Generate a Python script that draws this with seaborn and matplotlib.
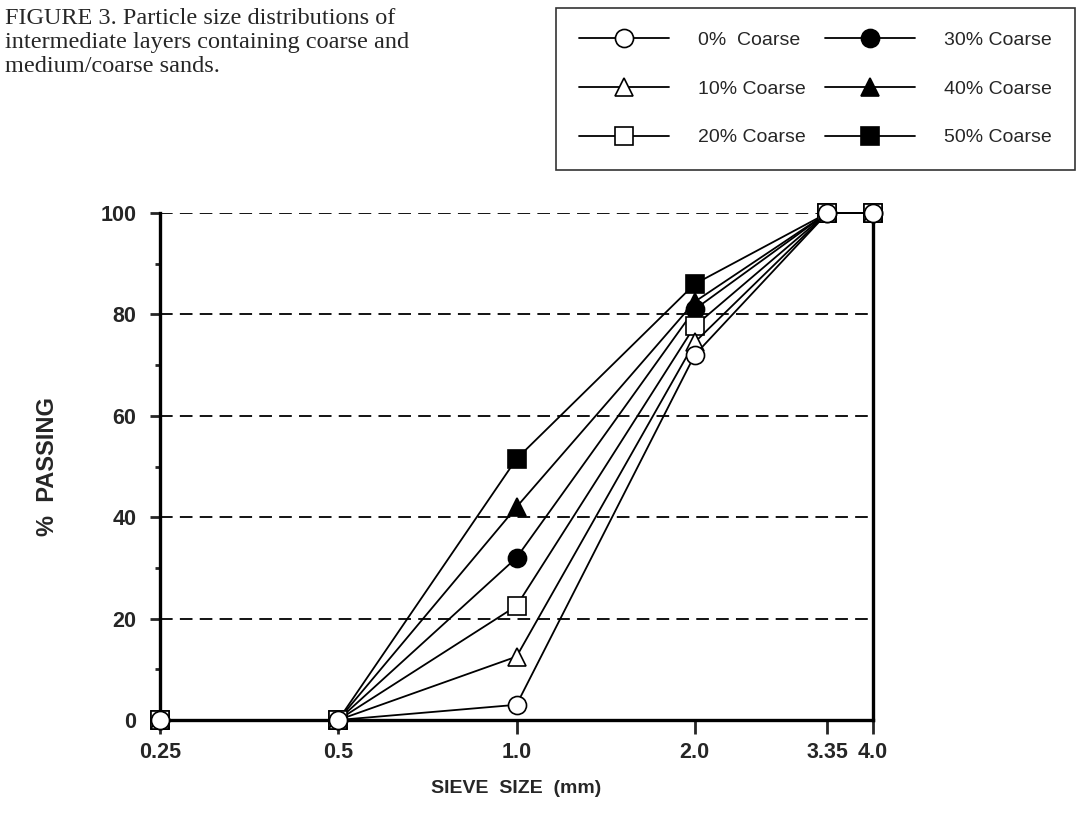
import pandas as pd
import seaborn as sns
import matplotlib.pyplot as plt
from matplotlib.lines import Line2D

# sieve sizes (mm) and % passing for each mix
sieve_mm = [0.25, 0.5, 1.0, 2.0, 3.35, 4.0]
sieve_labels = ["0.25", "0.5", "1.0", "2.0", "3.35", "4.0"]
mixes = ["0%  Coarse", "10% Coarse", "20% Coarse", "30% Coarse", "40% Coarse", "50% Coarse"]
pass_0 = [0, 0, 3, 72, 100, 100]
pass_10 = [0, 0, 12.5, 74.5, 100, 100]
pass_20 = [0, 0, 22.5, 77.7, 100, 100]
pass_30 = [0, 0, 32, 81, 100, 100]
pass_40 = [0, 0, 42, 82.5, 100, 100]
pass_50 = [0, 0, 51.5, 86, 100, 100]

rows = []
for mix, vals in zip(mixes, [pass_0, pass_10, pass_20, pass_30, pass_40, pass_50]):
    for s, v in zip(sieve_mm, vals):
        rows.append({"mix": mix, "sieve": s, "passing": v})
df = pd.DataFrame(rows)

marker_of = {mixes[0]: "o", mixes[1]: "^", mixes[2]: "s",
             mixes[3]: "o", mixes[4]: "^", mixes[5]: "s"}
face_of = {m: ("white" if i < 3 else "black") for i, m in enumerate(mixes)}
size_of = {"o": 13, "^": 13, "s": 12.5}

sns.set_theme(style="white")
plt.rcParams["font.family"] = ["Liberation Sans", "DejaVu Sans"]

fig = plt.figure(figsize=(10.77, 8.32), dpi=100)
ax = fig.add_axes([160 / 1077, 1 - 720 / 832, (873 - 160) / 1077, (720 - 213) / 832])

# draw heavy mixes first so the open markers sit on top
for mix in mixes[::-1]:
    sub = df[df["mix"] == mix]
    mk = marker_of[mix]
    sns.lineplot(data=sub, x="sieve", y="passing", ax=ax, color="black", lw=1.3,
                 marker=mk, markersize=size_of[mk], markerfacecolor=face_of[mix],
                 markeredgecolor="black", markeredgewidth=1.2, clip_on=False,
                 zorder=3, legend=False)

ax.set_xscale("log", base=2)
ax.set_xlim(0.25, 4.0)
ax.set_ylim(0, 100)
ax.set_xticks(sieve_mm)
ax.set_xticklabels(sieve_labels)
ax.minorticks_off()
ax.set_yticks([0, 20, 40, 60, 80, 100])
ax.set_yticks([10, 30, 50, 70, 90], minor=True)

ax.yaxis.grid(True, which="major", color="black", lw=1.3, linestyle=(0, (7, 4)))
ax.set_axisbelow(True)

for side in ["left", "bottom", "right"]:
    ax.spines[side].set_visible(True)
    ax.spines[side].set_linewidth(2.4)
    ax.spines[side].set_color("black")
ax.spines["top"].set_visible(False)

ax.tick_params(axis="y", which="major", direction="out", length=7, width=2, pad=10,
               labelsize=15.5, left=True)
ax.tick_params(axis="y", which="minor", direction="out", length=3.5, width=2, left=True)
ax.tick_params(axis="x", which="major", direction="out", length=10, width=2, pad=6,
               labelsize=15.5, bottom=True)
for lab in ax.get_xticklabels() + ax.get_yticklabels():
    lab.set_fontweight("bold")

ax.set_xlabel("SIEVE  SIZE  (mm)", fontsize=14, fontweight="bold", labelpad=12)
ax.set_ylabel("%  PASSING", fontsize=17, fontweight="bold", labelpad=30)

fig.text(5 / 1077, 1 - 8 / 832,
         "FIGURE 3. Particle size distributions of\nintermediate layers containing coarse and\nmedium/coarse sands.",
         family=["Liberation Serif", "DejaVu Serif"], fontsize=17.5, va="top", ha="left",
         linespacing=1.2)

handles = []
for mix in mixes:
    mk = marker_of[mix]
    handles.append(Line2D([], [], color="black", lw=1.3, marker=mk,
                          markersize=size_of[mk], markerfacecolor=face_of[mix],
                          markeredgecolor="black", markeredgewidth=1.2))
leg = fig.legend(handles, mixes, ncol=2, loc="upper right",
                 bbox_to_anchor=(1075 / 1077, 1 - 8 / 832), borderaxespad=0,
                 frameon=True, fancybox=False,
                 fontsize=14, handlelength=4.6, handletextpad=1.5, columnspacing=1.0,
                 labelspacing=1.6, borderpad=1.2)
leg.get_frame().set_edgecolor("black")
leg.get_frame().set_linewidth(1.2)

fig.savefig("out.png", dpi=100)
